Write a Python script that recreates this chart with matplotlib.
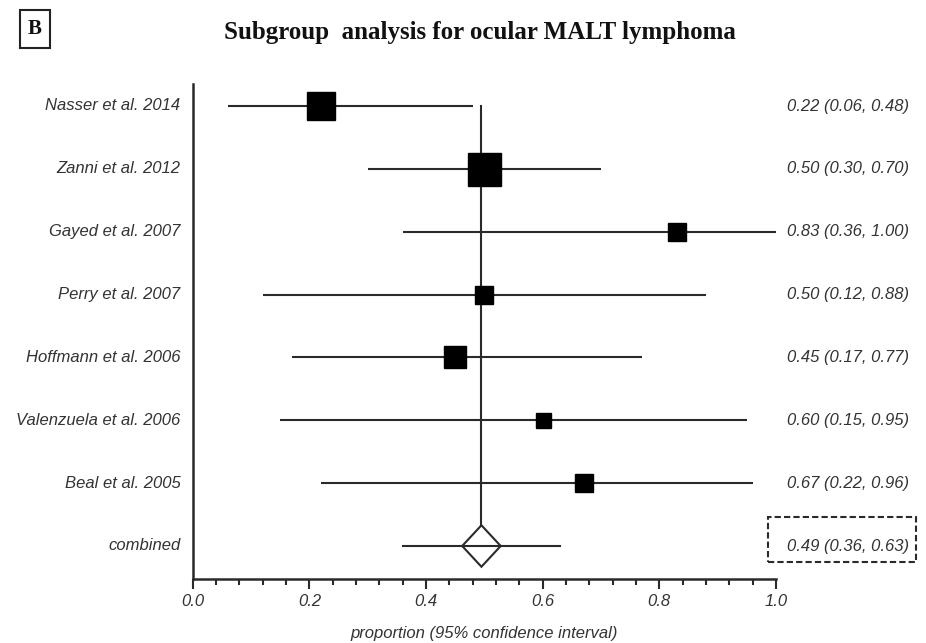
import matplotlib
matplotlib.use("Agg")
import matplotlib.pyplot as plt
from matplotlib.patches import Polygon, Rectangle

studies = ["Nasser et al. 2014", "Zanni et al. 2012", "Gayed et al. 2007",
           "Perry et al. 2007", "Hoffmann et al. 2006", "Valenzuela et al. 2006",
           "Beal et al. 2005"]
est = [0.22, 0.50, 0.83, 0.50, 0.45, 0.60, 0.67]
lo = [0.06, 0.30, 0.36, 0.12, 0.17, 0.15, 0.22]
hi = [0.48, 0.70, 1.00, 0.88, 0.77, 0.95, 0.96]
# relative box size (weight)
weight = [28, 33, 18, 18, 22, 15, 18]
comb_label = "combined"
comb_est, comb_lo, comb_hi = 0.495, 0.36, 0.63
comb_text = "0.49 (0.36, 0.63)"
xticks = [0.0, 0.2, 0.4, 0.6, 0.8, 1.0]
xticklabels = ["0.0", "0.2", "0.4", "0.6", "0.8", "1.0"]

W, H = 926, 643
fig = plt.figure(figsize=(W/100, H/100), dpi=100)
ax = fig.add_axes([192.7/W, 1-579/H, 583.3/W, (579-84)/H])

lc = "#2a2a2a"
tc = "#333333"
lw = 1.5
fs = 12
n = len(studies)
rows = list(range(n))

for i in rows:
    ax.plot([lo[i], hi[i]], [i, i], color=lc, lw=lw, solid_capstyle="butt", zorder=2)
    ax.plot([est[i]], [i], marker="s", ms=weight[i]*0.72, color="black", mec="black", zorder=3)

# combined
cy = n
ax.plot([comb_lo, comb_hi], [cy, cy], color=lc, lw=lw, zorder=2)
dx, dy = 0.033, 0.33
diamond = Polygon([[comb_est - dx, cy], [comb_est, cy - dy], [comb_est + dx, cy], [comb_est, cy + dy]],
                  closed=True, facecolor="white", edgecolor=lc, lw=lw, zorder=3)
ax.add_patch(diamond)
ax.plot([comb_est - dx, comb_est + dx], [cy, cy], color=lc, lw=lw, zorder=4)
ax.plot([comb_est, comb_est], [0, cy - dy], color=lc, lw=lw, zorder=1)

ax.set_xlim(0, 1.0)
ax.set_ylim(n + 0.525, -0.35)
ax.set_yticks([])
ax.set_xticks(xticks)
ax.set_xticklabels(xticklabels, fontsize=fs, style="italic", color=tc, family="Liberation Sans")
ax.set_xticks([i * 0.04 for i in range(26)], minor=True)
ax.tick_params(axis="x", which="major", length=7, width=1.5, color=lc, pad=4)
ax.tick_params(axis="x", which="minor", length=4, width=1.5, color=lc)
for s in ["top", "right"]:
    ax.spines[s].set_visible(False)
for s in ["left", "bottom"]:
    ax.spines[s].set_color(lc)
    ax.spines[s].set_linewidth(1.8)

for i, lab in enumerate(studies + [comb_label]):
    ax.text(-0.021, i, lab, ha="right", va="center", fontsize=fs, style="italic",
            color=tc, family="Liberation Sans", transform=ax.transData)

texts = ["%.2f (%.2f, %.2f)" % (est[i], lo[i], hi[i]) for i in rows] + [comb_text]
for i, t in enumerate(texts):
    fig.text(787/W, 1 - (106 + i*62.86)/H, t, ha="left", va="center", fontsize=fs,
             style="italic", color=tc, family="Liberation Sans")

# dashed box around combined text
fig.patches.append(Rectangle((768/W, 1-562/H), (916-768)/W, (562-517)/H, transform=fig.transFigure,
                             fill=False, ls=(0, (3, 1.5)), lw=1.5, edgecolor=lc))

ax.set_xlabel("proportion (95% confidence interval)", fontsize=fs, style="italic",
              color=tc, family="Liberation Sans", labelpad=12)

fig.text(480/W, 1-32/H, "Subgroup  analysis for ocular MALT lymphoma", ha="center", va="center",
         fontsize=18, weight="bold", family="Liberation Serif", color="#111111")
fig.text(35/W, 1-29/H, "B", ha="center", va="center", fontsize=15, weight="bold",
         family="Liberation Serif", color="#111111")
fig.patches.append(Rectangle((20/W, 1-48/H), 30/W, 38/H, transform=fig.transFigure,
                             fill=False, lw=1.5, edgecolor="#222222"))

fig.savefig("out.png", dpi=100, facecolor="white")
